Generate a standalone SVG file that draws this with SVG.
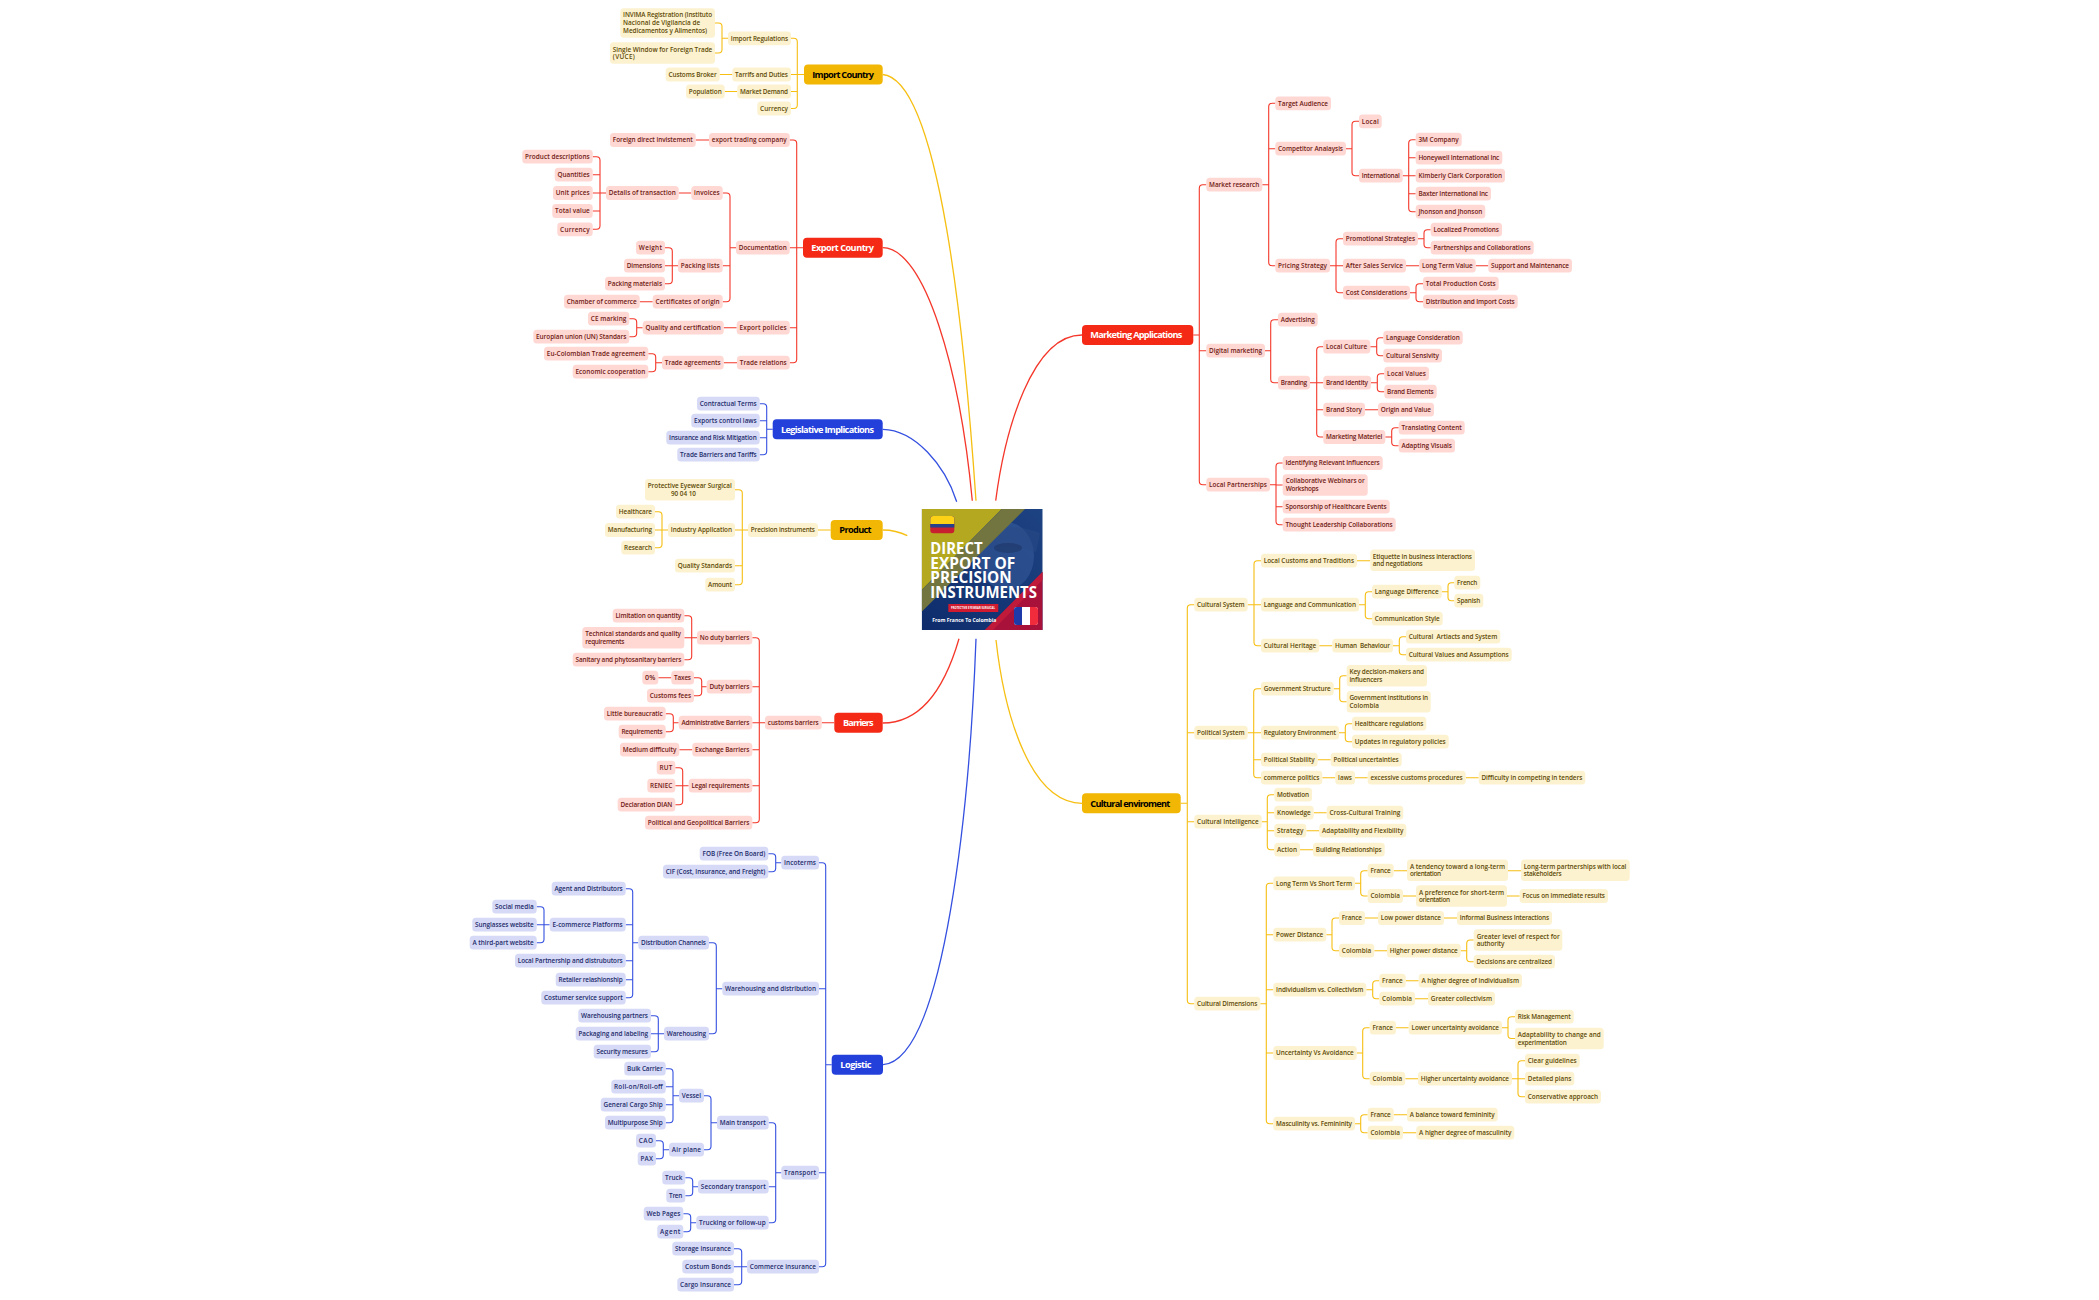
<svg xmlns="http://www.w3.org/2000/svg" width="2099" height="1300" viewBox="0 0 2099 1300">
<defs>
<style>
text{font-family:"Open Sans","Liberation Sans",sans-serif;font-size:6.4px;font-weight:600}
rect{rx:3.5px}
.y rect{fill:#FCF2CF}.y text{fill:#5E4A08}
.r rect{fill:#FFD7D3}.r text{fill:#6E1A14}
.b rect{fill:#D6DAF6}.b text{fill:#232B6B}
.m text{font-size:9.2px;font-weight:700}
.m rect{rx:4px}
.my rect{fill:#F2B705}.my text{fill:#000}
.mr rect{fill:#F42A16}.mr text{fill:#fff}
.mb rect{fill:#2440DA}.mb text{fill:#fff}
#links path{fill:none;stroke-width:1.1}
#links .ly path{stroke:#F6BF12}
#links .lr path{stroke:#F4372A}
#links .lb path{stroke:#3450E0}
#links .c path{stroke-width:1.3}
#center text{fill:#fff;font-weight:700}
#center .t1{font-size:15.5px}
#center .t2{font-size:2.6px}
#center .t3{font-size:5px}
</style>
<linearGradient id="bg" x1="0" y1="1" x2="1" y2="0"><stop offset="0" stop-color="#0E2C6C"/><stop offset="1" stop-color="#1E4382"/></linearGradient>
<clipPath id="cc"><rect x="921.7" y="509" width="121" height="121" style="rx:0"/></clipPath>
</defs>
<rect width="2099" height="1300" fill="#fff" style="rx:0"/>
<g id="links">
<g class="c ly"><path d="M882.7 74.5C940 80 965 340 976 500.7"/><path d="M882.7 530C892 530 900 532 907.3 535.7"/><path d="M1082 803.3C1032 803 1005 720 996 640"/></g>
<g class="c lr"><path d="M882.7 247.7C925 248 960 370 972.3 500.7"/><path d="M882.7 723C925 723 947 680 959 638.7"/><path d="M1082 335C1032 335 1005 430 995.7 500.7"/></g>
<g class="c lb"><path d="M882.7 429.3C915 430 945 465 956.7 501.7"/><path d="M883 1064.7C945 1060 970 800 976 638.7"/></g>
<g class="ly">
<path d="M804 74.5H797.3M791 38.3H793.8Q797.3 38.3 797.3 41.8V105Q797.3 108.5 793.8 108.5H791M791 74.5H797.3M791 91.5H797.3"/>
<path d="M728 38.3H722M715 23H718.5Q722 23 722 26.5V49.5Q722 53 718.5 53H715"/>
<path d="M732.3 74.5H719.7M737.3 91.5H724.7"/>
<path d="M830.7 530H818M748 530H742.3M735 489.7H738.8Q742.3 489.7 742.3 493.2V581.2Q742.3 584.7 738.8 584.7H735M735 530H742.3M735 565.7H742.3"/>
<path d="M668 530H662M655 511.7H658.5Q662 511.7 662 515.2V544.2Q662 547.7 658.5 547.7H655M655 530H662"/>
<path d="M1180.7 803.3H1187.3M1194.3 604.7H1190.8Q1187.3 604.7 1187.3 608.2V1000.2Q1187.3 1003.7 1190.8 1003.7H1194.3M1194.3 732.7H1187.3M1194.3 821.7H1187.3"/>
<path d="M1247.7 604.7H1254M1261 560.7H1257.5Q1254 560.7 1254 564.2V642.2Q1254 645.7 1257.5 645.7H1261M1261 604.7H1254"/>
<path d="M1357 560.7H1370.3M1359 604.7H1365.3M1372 591.7H1368.8Q1365.3 591.7 1365.3 595.2V615.2Q1365.3 618.7 1368.8 618.7H1372"/>
<path d="M1441.7 591.7H1448M1454.3 582.7H1451.5Q1448 582.7 1448 586.2V597.2Q1448 600.7 1451.5 600.7H1454.3"/>
<path d="M1319.3 645.7H1332.3M1393 645.7H1399.3M1406 636.7H1402.8Q1399.3 636.7 1399.3 640.2V651.2Q1399.3 654.7 1402.8 654.7H1406"/>
<path d="M1247.7 732.7H1253.7M1261 688.7H1257.2Q1253.7 688.7 1253.7 692.2V774.2Q1253.7 777.7 1257.2 777.7H1261M1261 732.7H1253.7M1261 759.7H1253.7"/>
<path d="M1333.7 688.7H1339.7M1346.7 675.8H1343.2Q1339.7 675.8 1339.7 679.3V698.3Q1339.7 701.8 1343.2 701.8H1346.7"/>
<path d="M1339 732.7H1345.3M1352 723.7H1348.8Q1345.3 723.7 1345.3 727.2V738.2Q1345.3 741.7 1348.8 741.7H1352"/>
<path d="M1317.7 759.7H1330.7M1322.3 777.7H1335.3M1355 777.7H1367.7M1465.7 777.7H1478.7"/>
<path d="M1261.7 821.7H1267.3M1274.3 794.7H1270.8Q1267.3 794.7 1267.3 798.2V846.2Q1267.3 849.7 1270.8 849.7H1274.3M1274.3 812.7H1267.3M1274.3 830.7H1267.3"/>
<path d="M1313.7 812.7H1326.7M1306.3 830.7H1319.3M1300 849.7H1313"/>
<path d="M1260.3 1003.7H1266.3M1273.3 883.3H1269.8Q1266.3 883.3 1266.3 886.8V1120.2Q1266.3 1123.7 1269.8 1123.7H1273.3M1273.3 934.7H1266.3M1273.3 989.7H1266.3M1273.3 1053H1266.3"/>
<path d="M1355 883.3H1360.7M1367.7 870.7H1364.2Q1360.7 870.7 1360.7 874.2V892.5Q1360.7 896 1364.2 896H1367.7"/>
<path d="M1393.7 870.7H1407M1508 870.7H1521M1403 896H1416M1507 896H1519.7"/>
<path d="M1326.3 934.7H1332M1339 918H1335.5Q1332 918 1332 921.5V947.2Q1332 950.7 1335.5 950.7H1339"/>
<path d="M1365 918H1378M1444 918H1457M1374.3 950.7H1387M1460.7 950.7H1466.7M1473.7 940H1470.2Q1466.7 940 1466.7 943.5V958.2Q1466.7 961.7 1470.2 961.7H1473.7"/>
<path d="M1366.3 989.7H1372.7M1379.3 980.7H1376.2Q1372.7 980.7 1372.7 984.2V995.2Q1372.7 998.7 1376.2 998.7H1379.3M1405.7 980.7H1418.7M1415 998.7H1428"/>
<path d="M1356.7 1053H1362.7M1369.7 1027.7H1366.2Q1362.7 1027.7 1362.7 1031.2V1075.2Q1362.7 1078.7 1366.2 1078.7H1369.7"/>
<path d="M1396 1027.7H1408.7M1502 1027.7H1508M1515 1016.7H1511.5Q1508 1016.7 1508 1020.2V1035Q1508 1038.5 1511.5 1038.5H1515"/>
<path d="M1405.3 1078.7H1418M1512 1078.7H1525M1525 1060.7H1521.5Q1518 1060.7 1518 1064.2V1093.2Q1518 1096.7 1521.5 1096.7H1525"/>
<path d="M1355 1123.7H1360.7M1367.7 1114.7H1364.2Q1360.7 1114.7 1360.7 1118.2V1129.2Q1360.7 1132.7 1364.2 1132.7H1367.7M1393.7 1114.7H1407M1403 1132.7H1416.3"/>
</g>
<g class="lr">
<path d="M803 247.7H796.7M789.7 140H793.2Q796.7 140 796.7 143.5V359.2Q796.7 362.7 793.2 362.7H789.7M789.7 247.7H796.7M789.7 327.7H796.7"/>
<path d="M709 140H695.7M736 247.7H730M722.7 193H726.5Q730 193 730 196.5V298.2Q730 301.7 726.5 301.7H722.7M722.7 265.7H730"/>
<path d="M691.3 193H678.7M606 193H600M592.7 156.7H596.5Q600 156.7 600 160.2V225.8Q600 229.3 596.5 229.3H592.7M592.7 174.7H600M592.7 193H600M592.7 211H600"/>
<path d="M678 265.7H672.3M665 247.7H668.8Q672.3 247.7 672.3 251.2V280.2Q672.3 283.7 668.8 283.7H665M665 265.7H672.3"/>
<path d="M652.7 301.7H639.7M736.7 327.7H723.7M642.7 327.7H636.7M629.3 318.7H633.2Q636.7 318.7 636.7 322.2V333.2Q636.7 336.7 633.2 336.7H629.3"/>
<path d="M737 362.7H723.7M662 362.7H655.7M648.3 353.7H652.2Q655.7 353.7 655.7 357.2V368.2Q655.7 371.7 652.2 371.7H648.3"/>
<path d="M834.3 722.7H821.7M765 722.7H759.3M752.3 637.7H755.8Q759.3 637.7 759.3 641.2V819.2Q759.3 822.7 755.8 822.7H752.3M752.3 686.7H759.3M752.3 722.7H759.3M752.3 749.7H759.3M752.3 785.7H759.3"/>
<path d="M697 637.7H691.7M684.3 615.7H688.2Q691.7 615.7 691.7 619.2V656.2Q691.7 659.7 688.2 659.7H684.3M684.3 637.7H691.7"/>
<path d="M706.7 686.7H701.7M694 677.7H698.2Q701.7 677.7 701.7 681.2V692.2Q701.7 695.7 698.2 695.7H694M671.3 677.7H658.3"/>
<path d="M678.7 722.7H673.3M665.7 713.7H669.8Q673.3 713.7 673.3 717.2V728.2Q673.3 731.7 669.8 731.7H665.7M692.3 749.7H679.3"/>
<path d="M688.7 785.7H682.7M675.3 767.7H679.2Q682.7 767.7 682.7 771.2V801.2Q682.7 804.7 679.2 804.7H675.3M675.3 785.7H682.7"/>
<path d="M1193.3 335H1199.3M1206.3 184.7H1202.8Q1199.3 184.7 1199.3 188.2V481.2Q1199.3 484.7 1202.8 484.7H1206.3M1206.3 350.7H1199.3"/>
<path d="M1262.3 184.7H1268.7M1275.3 103.3H1272.2Q1268.7 103.3 1268.7 106.8V262.2Q1268.7 265.7 1272.2 265.7H1275.3M1275.3 148.7H1268.7"/>
<path d="M1346 148.7H1352M1359 121.3H1355.5Q1352 121.3 1352 124.8V172.2Q1352 175.7 1355.5 175.7H1359"/>
<path d="M1402.7 175.7H1408.7M1415.7 139.7H1412.2Q1408.7 139.7 1408.7 143.2V208.2Q1408.7 211.7 1412.2 211.7H1415.7M1415.7 157.7H1408.7M1415.7 175.7H1408.7M1415.7 193.7H1408.7"/>
<path d="M1330 265.7H1336M1343 238.7H1339.5Q1336 238.7 1336 242.2V289.2Q1336 292.7 1339.5 292.7H1343M1343 265.7H1336"/>
<path d="M1418 238.7H1424M1430.7 229.7H1427.5Q1424 229.7 1424 233.2V244.2Q1424 247.7 1427.5 247.7H1430.7"/>
<path d="M1406 265.7H1419.3M1475.7 265.7H1488.3M1410 292.7H1416M1423 283.7H1419.5Q1416 283.7 1416 287.2V298.2Q1416 301.7 1419.5 301.7H1423"/>
<path d="M1265 350.7H1270.7M1278 319.7H1274.2Q1270.7 319.7 1270.7 323.2V379.2Q1270.7 382.7 1274.2 382.7H1278"/>
<path d="M1310 382.7H1316.7M1323.3 346.7H1320.2Q1316.7 346.7 1316.7 350.2V433.5Q1316.7 437 1320.2 437H1323.3M1323.3 382.7H1316.7M1323.3 409.7H1316.7"/>
<path d="M1370.3 346.7H1376.7M1383.3 337.7H1380.2Q1376.7 337.7 1376.7 341.2V352.2Q1376.7 355.7 1380.2 355.7H1383.3"/>
<path d="M1371 382.7H1377.3M1384.3 373.7H1380.8Q1377.3 373.7 1377.3 377.2V388.2Q1377.3 391.7 1380.8 391.7H1384.3M1365 409.7H1378"/>
<path d="M1385.3 437H1391.7M1398.7 427.7H1395.2Q1391.7 427.7 1391.7 431.2V442.2Q1391.7 445.7 1395.2 445.7H1398.7"/>
<path d="M1270 484.7H1276M1282.7 463H1279.5Q1276 463 1276 466.5V521.2Q1276 524.7 1279.5 524.7H1282.7M1282.7 485H1276M1282.7 506.7H1276"/>
</g>
<g class="lb">
<path d="M772.7 429.3H766.7M759.7 403.7H763.2Q766.7 403.7 766.7 407.2V451.2Q766.7 454.7 763.2 454.7H759.7M759.7 420.7H766.7M759.7 437.7H766.7"/>
<path d="M831.7 1064.7H825.7M819 862.7H822.2Q825.7 862.7 825.7 866.2V1263.2Q825.7 1266.7 822.2 1266.7H819M819 988.7H825.7M819 1172.7H825.7"/>
<path d="M781.3 862.7H775.7M768.3 853.7H772.2Q775.7 853.7 775.7 857.2V868.2Q775.7 871.7 772.2 871.7H768.3"/>
<path d="M722.3 988.7H716.3M709 942.7H712.8Q716.3 942.7 716.3 946.2V1030.2Q716.3 1033.7 712.8 1033.7H709"/>
<path d="M638.3 942.7H632.7M625.7 888.7H629.2Q632.7 888.7 632.7 892.2V994.2Q632.7 997.7 629.2 997.7H625.7M625.7 924.7H632.7M625.7 960.7H632.7M625.7 979.7H632.7"/>
<path d="M549.7 924.7H544M536.7 906.7H540.5Q544 906.7 544 910.2V939.2Q544 942.7 540.5 942.7H536.7M536.7 924.7H544"/>
<path d="M664 1033.7H658.3M651 1015.7H654.8Q658.3 1015.7 658.3 1019.2V1048.2Q658.3 1051.7 654.8 1051.7H651M651 1033.7H658.3"/>
<path d="M781.3 1172.7H775.7M768.7 1122.7H772.2Q775.7 1122.7 775.7 1126.2V1219.2Q775.7 1222.7 772.2 1222.7H768.7M768.7 1186.7H775.7"/>
<path d="M717 1122.7H711M704 1095.7H707.5Q711 1095.7 711 1099.2V1146.2Q711 1149.7 707.5 1149.7H704"/>
<path d="M679 1095.7H673M665.7 1068.7H669.5Q673 1068.7 673 1072.2V1119.2Q673 1122.7 669.5 1122.7H665.7M665.7 1086.7H673M665.7 1104.7H673"/>
<path d="M669 1149.7H663.3M656 1140.7H659.8Q663.3 1140.7 663.3 1144.2V1155.2Q663.3 1158.7 659.8 1158.7H656"/>
<path d="M698 1186.7H692.7M685.3 1177.7H689.2Q692.7 1177.7 692.7 1181.2V1192.2Q692.7 1195.7 689.2 1195.7H685.3"/>
<path d="M696.3 1222.7H690.7M683.3 1213.7H687.2Q690.7 1213.7 690.7 1217.2V1228.2Q690.7 1231.7 687.2 1231.7H683.3"/>
<path d="M747 1266.7H741.7M734 1248.7H738.2Q741.7 1248.7 741.7 1252.2V1281.2Q741.7 1284.7 738.2 1284.7H734M734 1266.7H741.7"/>
</g>
</g>
<g id="center" clip-path="url(#cc)">
<rect x="921.7" y="509" width="121" height="121" fill="url(#bg)" style="rx:0"/>
<ellipse cx="1006" cy="556" rx="28" ry="34" fill="#4A70AE" opacity=".35"/>
<path d="M975 535Q1005 520 1040 533L1036 552Q1005 542 980 550Z" fill="#2A4A86" opacity=".5"/>
<ellipse cx="1008" cy="548" rx="14" ry="5" fill="#14264E" opacity=".35"/>
<polygon points="921.7,509 1001.7,509 921.7,590" fill="#B3A820"/>
<polygon points="1001.7,509 1025,509 921.7,611.7 921.7,590" fill="#72753F"/>
<polygon points="1042.7,571.7 1042.7,630 985,630" fill="#A8123A"/>
<polygon points="1042.7,571.7 1042.7,580 993,630 985,630" fill="#C01A3A"/>
<rect x="930.3" y="516" width="24" height="17.3" fill="#C8202E" style="rx:3px"/>
<path d="M930.3 527.5V519Q930.3 516 933.3 516H951.3Q954.3 516 954.3 519V527.5Z" fill="#27408B"/>
<path d="M930.3 524V519Q930.3 516 933.3 516H951.3Q954.3 516 954.3 519V524Z" fill="#FCD116"/>
<rect x="1014" y="607" width="24" height="18" fill="#fff" style="rx:3px"/>
<path d="M1022 607H1017Q1014 607 1014 610V622Q1014 625 1017 625H1022Z" fill="#1E3AA8"/>
<path d="M1030 607H1035Q1038 607 1038 610V622Q1038 625 1035 625H1030Z" fill="#EF2B3C"/>
<text class="t1"><tspan x="930.3" y="554" textLength="52.3" lengthAdjust="spacingAndGlyphs">DIRECT</tspan><tspan x="930.3" y="568.5" textLength="85" lengthAdjust="spacingAndGlyphs">EXPORT OF</tspan><tspan x="930.3" y="583.3" textLength="81.3" lengthAdjust="spacingAndGlyphs">PRECISION</tspan><tspan x="930.3" y="597.7" textLength="106.7" lengthAdjust="spacingAndGlyphs">INSTRUMENTS</tspan></text>
<rect x="948.3" y="604" width="50" height="8" fill="#D01A30" style="rx:.5px"/>
<text class="t2" x="951" y="609" textLength="44" lengthAdjust="spacingAndGlyphs">PROTECTIVE EYEWEAR SURGICAL</text>
<text class="t3" x="932.3" y="622" textLength="64" lengthAdjust="spacingAndGlyphs">From France To Colombia</text>
</g>
<g id="main" class="m">
<g id="import-country" class="my"><rect x="804" y="64.5" width="78.7" height="20"/><text x="812.3" y="77.8" textLength="61.7">Import Country</text></g>
<g id="export-country" class="mr"><rect x="803" y="237.7" width="79.7" height="20"/><text x="811.3" y="251" textLength="62.7">Export Country</text></g>
<g id="legislative" class="mb"><rect x="772.7" y="419.3" width="110" height="20"/><text x="781" y="432.6" textLength="93">Legislative Implications</text></g>
<g id="product" class="my"><rect x="830.7" y="520" width="52" height="20"/><text x="839.3" y="533.3" textLength="32.3">Product</text></g>
<g id="barriers" class="mr"><rect x="834.3" y="712.7" width="48.4" height="20"/><text x="843" y="726" textLength="30.7">Barriers</text></g>
<g id="logistic" class="mb"><rect x="831.7" y="1054.7" width="51.3" height="20"/><text x="840.3" y="1068" textLength="31.3">Logistic</text></g>
<g id="marketing" class="mr"><rect x="1082" y="325" width="111.3" height="20"/><text x="1090.3" y="338.3" textLength="92">Marketing Applications</text></g>
<g id="cultural" class="my"><rect x="1082" y="793.3" width="98.7" height="20"/><text x="1090.3" y="806.6" textLength="80">Cultural enviroment</text></g>
</g>
<g id="import-nodes" class="y">
<g id="y1" transform="translate(620.3 23)"><rect y="-14.7" width="94.7" height="29.4"/><text x="2.8" y="-6" textLength="89">INVIMA Registration (Instituto</text><text x="2.8" y="2" textLength="77">Nacional de Vigilancia de</text><text x="2.8" y="10" textLength="84">Medicamentos y Alimentos)</text></g>
<g id="y2" transform="translate(728 38.3)"><rect y="-6.9" width="63" height="13.8"/><text x="2.8" y="2.2" textLength="57.2">Import Regulations</text></g>
<g id="y3" transform="translate(610 53)"><rect y="-10.7" width="105" height="21.4"/><text x="2.8" y="-1.1" textLength="99.5">Single Window for Foreign Trade</text><text x="2.8" y="5.9" textLength="22">(VUCE)</text></g>
<g id="y4" transform="translate(732.3 74.5)"><rect y="-6.9" width="58.7" height="13.8"/><text x="2.8" y="2.2" textLength="52.9">Tarrifs and Duties</text></g>
<g id="y5" transform="translate(665.7 74.5)"><rect y="-6.9" width="54" height="13.8"/><text x="2.8" y="2.2" textLength="48.2">Customs Broker</text></g>
<g id="y6" transform="translate(737.3 91.5)"><rect y="-6.9" width="53.7" height="13.8"/><text x="2.8" y="2.2" textLength="47.9">Market Demand</text></g>
<g id="y7" transform="translate(686 91.5)"><rect y="-6.9" width="38.7" height="13.8"/><text x="2.8" y="2.2" textLength="32.9">Population</text></g>
<g id="y8" transform="translate(757.3 108.5)"><rect y="-6.9" width="33.7" height="13.8"/><text x="2.8" y="2.2" textLength="27.9">Currency</text></g>
</g>
<g id="export-nodes" class="r">
<g id="r1" transform="translate(709 140)"><rect y="-6.9" width="80.7" height="13.8"/><text x="2.8" y="2.2" textLength="74.9">export trading company</text></g>
<g id="r2" transform="translate(610 140)"><rect y="-6.9" width="85.7" height="13.8"/><text x="2.8" y="2.2" textLength="79.9">Foreign direct invistement</text></g>
<g id="r3" transform="translate(736 247.7)"><rect y="-6.9" width="53.7" height="13.8"/><text x="2.8" y="2.2" textLength="47.9">Documentation</text></g>
<g id="r4" transform="translate(691.3 193)"><rect y="-6.9" width="31.4" height="13.8"/><text x="2.8" y="2.2" textLength="25.6">invoices</text></g>
<g id="r5" transform="translate(606 193)"><rect y="-6.9" width="72.7" height="13.8"/><text x="2.8" y="2.2" textLength="66.9">Details of transaction</text></g>
<g id="r6" transform="translate(522.3 156.7)"><rect y="-6.9" width="70.4" height="13.8"/><text x="2.8" y="2.2" textLength="64.6">Product descriptions</text></g>
<g id="r7" transform="translate(554.7 174.7)"><rect y="-6.9" width="38" height="13.8"/><text x="2.8" y="2.2" textLength="32.2">Quantities</text></g>
<g id="r8" transform="translate(553 193)"><rect y="-6.9" width="39.7" height="13.8"/><text x="2.8" y="2.2" textLength="33.9">Unit prices</text></g>
<g id="r9" transform="translate(552.3 211)"><rect y="-6.9" width="40.4" height="13.8"/><text x="2.8" y="2.2" textLength="34.6">Total value</text></g>
<g id="r10" transform="translate(557.3 229.3)"><rect y="-6.9" width="35.4" height="13.8"/><text x="2.8" y="2.2" textLength="29.6">Currency</text></g>
<g id="r11" transform="translate(678 265.7)"><rect y="-6.9" width="44.7" height="13.8"/><text x="2.8" y="2.2" textLength="38.9">Packing lists</text></g>
<g id="r12" transform="translate(636 247.7)"><rect y="-6.9" width="29" height="13.8"/><text x="2.8" y="2.2" textLength="23.2">Weight</text></g>
<g id="r13" transform="translate(624 265.7)"><rect y="-6.9" width="41" height="13.8"/><text x="2.8" y="2.2" textLength="35.2">Dimensions</text></g>
<g id="r14" transform="translate(605 283.7)"><rect y="-6.9" width="60" height="13.8"/><text x="2.8" y="2.2" textLength="54.2">Packing materials</text></g>
<g id="r15" transform="translate(652.7 301.7)"><rect y="-6.9" width="70" height="13.8"/><text x="2.8" y="2.2" textLength="64.2">Certificates of origin</text></g>
<g id="r16" transform="translate(564 301.7)"><rect y="-6.9" width="75.7" height="13.8"/><text x="2.8" y="2.2" textLength="69.9">Chamber of commerce</text></g>
<g id="r17" transform="translate(736.7 327.7)"><rect y="-6.9" width="53" height="13.8"/><text x="2.8" y="2.2" textLength="47.2">Export policies</text></g>
<g id="r18" transform="translate(642.7 327.7)"><rect y="-6.9" width="81" height="13.8"/><text x="2.8" y="2.2" textLength="75.2">Quality and certification</text></g>
<g id="r19" transform="translate(588 318.7)"><rect y="-6.9" width="41.3" height="13.8"/><text x="2.8" y="2.2" textLength="35.5">CE marking</text></g>
<g id="r20" transform="translate(533.3 336.7)"><rect y="-6.9" width="96" height="13.8"/><text x="2.8" y="2.2" textLength="90.2">Europian union (UN) Standars</text></g>
<g id="r21" transform="translate(737 362.7)"><rect y="-6.9" width="52.7" height="13.8"/><text x="2.8" y="2.2" textLength="46.9">Trade relations</text></g>
<g id="r22" transform="translate(662 362.7)"><rect y="-6.9" width="61.7" height="13.8"/><text x="2.8" y="2.2" textLength="55.9">Trade agreements</text></g>
<g id="r23" transform="translate(544 353.7)"><rect y="-6.9" width="104.3" height="13.8"/><text x="2.8" y="2.2" textLength="98.5">Eu-Colombian Trade agreement</text></g>
<g id="r24" transform="translate(572.7 371.7)"><rect y="-6.9" width="75.6" height="13.8"/><text x="2.8" y="2.2" textLength="69.8">Economic cooperation</text></g>
</g>
<g id="legislative-nodes" class="b">
<g id="b1" transform="translate(697 403.7)"><rect y="-6.9" width="62.7" height="13.8"/><text x="2.8" y="2.2" textLength="56.9">Contractual Terms</text></g>
<g id="b2" transform="translate(691.3 420.7)"><rect y="-6.9" width="68.4" height="13.8"/><text x="2.8" y="2.2" textLength="62.6">Exports control laws</text></g>
<g id="b3" transform="translate(666.3 437.7)"><rect y="-6.9" width="93.4" height="13.8"/><text x="2.8" y="2.2" textLength="87.6">Insurance and Risk Mitigation</text></g>
<g id="b4" transform="translate(677.3 454.7)"><rect y="-6.9" width="82.4" height="13.8"/><text x="2.8" y="2.2" textLength="76.6">Trade Barriers and Tariffs</text></g>
</g>
<g id="product-nodes" class="y">
<g id="p1" transform="translate(748 530)"><rect y="-6.9" width="70" height="13.8"/><text x="2.8" y="2.2" textLength="64.2">Precision instruments</text></g>
<g id="p2" transform="translate(645 489.7)"><rect y="-10.8" width="90" height="21.6"/><text x="2.7" y="-1.8" textLength="84">Protective Eyewear Surgical</text><text x="26" y="6.2" textLength="25">90 04 10</text></g>
<g id="p3" transform="translate(668 530)"><rect y="-6.9" width="67" height="13.8"/><text x="2.8" y="2.2" textLength="61.2">Industry Application</text></g>
<g id="p4" transform="translate(616 511.7)"><rect y="-6.9" width="39" height="13.8"/><text x="2.8" y="2.2" textLength="33.2">Healthcare</text></g>
<g id="p5" transform="translate(605 530)"><rect y="-6.9" width="50" height="13.8"/><text x="2.8" y="2.2" textLength="44.2">Manufacturing</text></g>
<g id="p6" transform="translate(621.3 547.7)"><rect y="-6.9" width="33.7" height="13.8"/><text x="2.8" y="2.2" textLength="27.9">Research</text></g>
<g id="p7" transform="translate(675 565.7)"><rect y="-6.9" width="60" height="13.8"/><text x="2.8" y="2.2" textLength="54.2">Quality Standards</text></g>
<g id="p8" transform="translate(705.3 584.7)"><rect y="-6.9" width="29.7" height="13.8"/><text x="2.8" y="2.2" textLength="23.9">Amount</text></g>
</g>
<g id="barrier-nodes" class="r">
<g id="k1" transform="translate(765 722.7)"><rect y="-6.9" width="56.7" height="13.8"/><text x="2.8" y="2.2" textLength="50.9">customs barriers</text></g>
<g id="k2" transform="translate(697 637.7)"><rect y="-6.9" width="55.3" height="13.8"/><text x="2.8" y="2.2" textLength="49.5">No duty barriers</text></g>
<g id="k3" transform="translate(612.7 615.7)"><rect y="-6.9" width="71.6" height="13.8"/><text x="2.8" y="2.2" textLength="65.8">Limitation on quantity</text></g>
<g id="k4" transform="translate(582.3 637.7)"><rect y="-10.8" width="102" height="21.6"/><text x="3" y="-1.8" textLength="95.7">Technical standards and quality</text><text x="3" y="6.2" textLength="39">requirements</text></g>
<g id="k5" transform="translate(572.7 659.7)"><rect y="-6.9" width="111.6" height="13.8"/><text x="2.8" y="2.2" textLength="105.8">Sanitary and phytosanitary barriers</text></g>
<g id="k6" transform="translate(706.7 686.7)"><rect y="-6.9" width="45.6" height="13.8"/><text x="2.8" y="2.2" textLength="39.8">Duty barriers</text></g>
<g id="k7" transform="translate(671.3 677.7)"><rect y="-6.9" width="22.7" height="13.8"/><text x="2.8" y="2.2" textLength="16.9">Taxes</text></g>
<g id="k8" transform="translate(642.3 677.7)"><rect y="-6.9" width="16" height="13.8"/><text x="2.8" y="2.2" textLength="10.2" lengthAdjust="spacingAndGlyphs">0%</text></g>
<g id="k9" transform="translate(647 695.7)"><rect y="-6.9" width="47" height="13.8"/><text x="2.8" y="2.2" textLength="41.2">Customs fees</text></g>
<g id="k10" transform="translate(678.7 722.7)"><rect y="-6.9" width="73.6" height="13.8"/><text x="2.8" y="2.2" textLength="67.8">Administrative Barriers</text></g>
<g id="k11" transform="translate(604 713.7)"><rect y="-6.9" width="61.7" height="13.8"/><text x="2.8" y="2.2" textLength="55.9">Little bureaucratic</text></g>
<g id="k12" transform="translate(618.7 731.7)"><rect y="-6.9" width="47" height="13.8"/><text x="2.8" y="2.2" textLength="41.2">Requirements</text></g>
<g id="k13" transform="translate(692.3 749.7)"><rect y="-6.9" width="60" height="13.8"/><text x="2.8" y="2.2" textLength="54.2">Exchange Barriers</text></g>
<g id="k14" transform="translate(620 749.7)"><rect y="-6.9" width="59.3" height="13.8"/><text x="2.8" y="2.2" textLength="53.5">Medium difficulty</text></g>
<g id="k15" transform="translate(688.7 785.7)"><rect y="-6.9" width="63.6" height="13.8"/><text x="2.8" y="2.2" textLength="57.8">Legal requirements</text></g>
<g id="k16" transform="translate(656.7 767.7)"><rect y="-6.9" width="18.6" height="13.8"/><text x="2.8" y="2.2" textLength="12.8">RUT</text></g>
<g id="k17" transform="translate(647.3 785.7)"><rect y="-6.9" width="28" height="13.8"/><text x="2.8" y="2.2" textLength="22.2">RENIEC</text></g>
<g id="k18" transform="translate(617.7 804.7)"><rect y="-6.9" width="57.6" height="13.8"/><text x="2.8" y="2.2" textLength="51.8">Declaration DIAN</text></g>
<g id="k19" transform="translate(645 822.7)"><rect y="-6.9" width="107.3" height="13.8"/><text x="2.8" y="2.2" textLength="101.5">Political and Geopolitical Barriers</text></g>
</g>
<g id="logistic-nodes" class="b">
<g id="l1" transform="translate(781.3 862.7)"><rect y="-6.9" width="37.7" height="13.8"/><text x="2.8" y="2.2" textLength="31.9">Incoterms</text></g>
<g id="l2" transform="translate(699.7 853.7)"><rect y="-6.9" width="68.6" height="13.8"/><text x="2.8" y="2.2" textLength="62.8">FOB (Free On Board)</text></g>
<g id="l3" transform="translate(663 871.7)"><rect y="-6.9" width="105.3" height="13.8"/><text x="2.8" y="2.2" textLength="99.5">CIF (Cost, Insurance, and Freight)</text></g>
<g id="l4" transform="translate(722.3 988.7)"><rect y="-6.9" width="96.7" height="13.8"/><text x="2.8" y="2.2" textLength="90.9">Warehousing and distribution</text></g>
<g id="l5" transform="translate(638.3 942.7)"><rect y="-6.9" width="70.7" height="13.8"/><text x="2.8" y="2.2" textLength="64.9">Distribution Channels</text></g>
<g id="l6" transform="translate(551.7 888.7)"><rect y="-6.9" width="74" height="13.8"/><text x="2.8" y="2.2" textLength="68.2">Agent and Distributors</text></g>
<g id="l7" transform="translate(549.7 924.7)"><rect y="-6.9" width="76" height="13.8"/><text x="2.8" y="2.2" textLength="70.2">E-commerce Platforms</text></g>
<g id="l8" transform="translate(492.3 906.7)"><rect y="-6.9" width="44.4" height="13.8"/><text x="2.8" y="2.2" textLength="38.6">Social media</text></g>
<g id="l9" transform="translate(472.3 924.7)"><rect y="-6.9" width="64.4" height="13.8"/><text x="2.8" y="2.2" textLength="58.6">Sunglasses website</text></g>
<g id="l10" transform="translate(469.7 942.7)"><rect y="-6.9" width="67" height="13.8"/><text x="2.8" y="2.2" textLength="61.2">A third-part website</text></g>
<g id="l11" transform="translate(515 960.7)"><rect y="-6.9" width="110.7" height="13.8"/><text x="2.8" y="2.2" textLength="104.9">Local Partnership and distrubutors</text></g>
<g id="l12" transform="translate(555.7 979.7)"><rect y="-6.9" width="70" height="13.8"/><text x="2.8" y="2.2" textLength="64.2">Retailer relashionship</text></g>
<g id="l13" transform="translate(541.3 997.7)"><rect y="-6.9" width="84.4" height="13.8"/><text x="2.8" y="2.2" textLength="78.6">Costumer service support</text></g>
<g id="l14" transform="translate(664 1033.7)"><rect y="-6.9" width="45" height="13.8"/><text x="2.8" y="2.2" textLength="39.2">Warehousing</text></g>
<g id="l15" transform="translate(578.3 1015.7)"><rect y="-6.9" width="72.7" height="13.8"/><text x="2.8" y="2.2" textLength="66.9">Warehousing partners</text></g>
<g id="l16" transform="translate(575.7 1033.7)"><rect y="-6.9" width="75.3" height="13.8"/><text x="2.8" y="2.2" textLength="69.5">Packaging and labeling</text></g>
<g id="l17" transform="translate(593.7 1051.7)"><rect y="-6.9" width="57.3" height="13.8"/><text x="2.8" y="2.2" textLength="51.5">Security mesures</text></g>
<g id="l18" transform="translate(781.3 1172.7)"><rect y="-6.9" width="37.7" height="13.8"/><text x="2.8" y="2.2" textLength="31.9">Transport</text></g>
<g id="l19" transform="translate(717 1122.7)"><rect y="-6.9" width="51.7" height="13.8"/><text x="2.8" y="2.2" textLength="45.9">Main transport</text></g>
<g id="l20" transform="translate(679 1095.7)"><rect y="-6.9" width="25" height="13.8"/><text x="2.8" y="2.2" textLength="19.2">Vessel</text></g>
<g id="l21" transform="translate(624.3 1068.7)"><rect y="-6.9" width="41.4" height="13.8"/><text x="2.8" y="2.2" textLength="35.6">Bulk Carrier</text></g>
<g id="l22" transform="translate(611.3 1086.7)"><rect y="-6.9" width="54.4" height="13.8"/><text x="2.8" y="2.2" textLength="48.6">Roll-on/Roll-off</text></g>
<g id="l23" transform="translate(600.7 1104.7)"><rect y="-6.9" width="65" height="13.8"/><text x="2.8" y="2.2" textLength="59.2">General Cargo Ship</text></g>
<g id="l24" transform="translate(605 1122.7)"><rect y="-6.9" width="60.7" height="13.8"/><text x="2.8" y="2.2" textLength="54.9">Multipurpose Ship</text></g>
<g id="l25" transform="translate(669 1149.7)"><rect y="-6.9" width="35" height="13.8"/><text x="2.8" y="2.2" textLength="29.2">Air plane</text></g>
<g id="l26" transform="translate(636 1140.7)"><rect y="-6.9" width="20" height="13.8"/><text x="2.8" y="2.2" textLength="14.2">CAO</text></g>
<g id="l27" transform="translate(637.7 1158.7)"><rect y="-6.9" width="18.3" height="13.8"/><text x="2.8" y="2.2" textLength="12.5">PAX</text></g>
<g id="l28" transform="translate(698 1186.7)"><rect y="-6.9" width="70.7" height="13.8"/><text x="2.8" y="2.2" textLength="64.9">Secondary transport</text></g>
<g id="l29" transform="translate(662.3 1177.7)"><rect y="-6.9" width="23" height="13.8"/><text x="2.8" y="2.2" textLength="17.2">Truck</text></g>
<g id="l30" transform="translate(666.3 1195.7)"><rect y="-6.9" width="19" height="13.8"/><text x="2.8" y="2.2" textLength="13.2">Tren</text></g>
<g id="l31" transform="translate(696.3 1222.7)"><rect y="-6.9" width="72.4" height="13.8"/><text x="2.8" y="2.2" textLength="66.6">Trucking or follow-up</text></g>
<g id="l32" transform="translate(643.7 1213.7)"><rect y="-6.9" width="39.6" height="13.8"/><text x="2.8" y="2.2" textLength="33.8">Web Pages</text></g>
<g id="l33" transform="translate(657.3 1231.7)"><rect y="-6.9" width="26" height="13.8"/><text x="2.8" y="2.2" textLength="20.2">Agent</text></g>
<g id="l34" transform="translate(747 1266.7)"><rect y="-6.9" width="72" height="13.8"/><text x="2.8" y="2.2" textLength="66.2">Commerce insurance</text></g>
<g id="l35" transform="translate(672.3 1248.7)"><rect y="-6.9" width="61.7" height="13.8"/><text x="2.8" y="2.2" textLength="55.9">Storage insurance</text></g>
<g id="l36" transform="translate(682.3 1266.7)"><rect y="-6.9" width="51.7" height="13.8"/><text x="2.8" y="2.2" textLength="45.9">Costum Bonds</text></g>
<g id="l37" transform="translate(677.3 1284.7)"><rect y="-6.9" width="56.7" height="13.8"/><text x="2.8" y="2.2" textLength="50.9">Cargo Insurance</text></g>
</g>
<g id="marketing-nodes" class="r">
<g id="a1" transform="translate(1206.3 184.7)"><rect y="-6.9" width="56" height="13.8"/><text x="2.8" y="2.2" textLength="50.2">Market research</text></g>
<g id="a2" transform="translate(1275.3 103.3)"><rect y="-6.9" width="55.7" height="13.8"/><text x="2.8" y="2.2" textLength="49.9">Target Audience</text></g>
<g id="a3" transform="translate(1275.3 148.7)"><rect y="-6.9" width="70.7" height="13.8"/><text x="2.8" y="2.2" textLength="64.9">Competitor Analaysis</text></g>
<g id="a4" transform="translate(1359 121.3)"><rect y="-6.9" width="22.7" height="13.8"/><text x="2.8" y="2.2" textLength="16.9">Local</text></g>
<g id="a5" transform="translate(1359 175.7)"><rect y="-6.9" width="43.7" height="13.8"/><text x="2.8" y="2.2" textLength="37.9">International</text></g>
<g id="a6" transform="translate(1415.7 139.7)"><rect y="-6.9" width="46" height="13.8"/><text x="2.8" y="2.2" textLength="40.2">3M Company</text></g>
<g id="a7" transform="translate(1415.7 157.7)"><rect y="-6.9" width="86.6" height="13.8"/><text x="2.8" y="2.2" textLength="80.8">Honeywell International Inc</text></g>
<g id="a8" transform="translate(1415.7 175.7)"><rect y="-6.9" width="89.3" height="13.8"/><text x="2.8" y="2.2" textLength="83.5">Kimberly Clark Corporation</text></g>
<g id="a9" transform="translate(1415.7 193.7)"><rect y="-6.9" width="75.3" height="13.8"/><text x="2.8" y="2.2" textLength="69.5">Baxter International Inc</text></g>
<g id="a10" transform="translate(1415.7 211.7)"><rect y="-6.9" width="69.6" height="13.8"/><text x="2.8" y="2.2" textLength="63.8">Jhonson and Jhonson</text></g>
<g id="a11" transform="translate(1275.3 265.7)"><rect y="-6.9" width="54.7" height="13.8"/><text x="2.8" y="2.2" textLength="48.9">Pricing Strategy</text></g>
<g id="a12" transform="translate(1343 238.7)"><rect y="-6.9" width="75" height="13.8"/><text x="2.8" y="2.2" textLength="69.2">Promotional Strategies</text></g>
<g id="a13" transform="translate(1430.7 229.7)"><rect y="-6.9" width="71.3" height="13.8"/><text x="2.8" y="2.2" textLength="65.5">Localized Promotions</text></g>
<g id="a14" transform="translate(1430.7 247.7)"><rect y="-6.9" width="103" height="13.8"/><text x="2.8" y="2.2" textLength="97.2">Partnerships and Collaborations</text></g>
<g id="a15" transform="translate(1343 265.7)"><rect y="-6.9" width="63" height="13.8"/><text x="2.8" y="2.2" textLength="57.2">After Sales Service</text></g>
<g id="a16" transform="translate(1419.3 265.7)"><rect y="-6.9" width="56.4" height="13.8"/><text x="2.8" y="2.2" textLength="50.6">Long Term Value</text></g>
<g id="a17" transform="translate(1488.3 265.7)"><rect y="-6.9" width="83.7" height="13.8"/><text x="2.8" y="2.2" textLength="77.9">Support and Maintenance</text></g>
<g id="a18" transform="translate(1343 292.7)"><rect y="-6.9" width="67" height="13.8"/><text x="2.8" y="2.2" textLength="61.2">Cost Considerations</text></g>
<g id="a19" transform="translate(1423 283.7)"><rect y="-6.9" width="75.7" height="13.8"/><text x="2.8" y="2.2" textLength="69.9">Total Production Costs</text></g>
<g id="a20" transform="translate(1423 301.7)"><rect y="-6.9" width="94.7" height="13.8"/><text x="2.8" y="2.2" textLength="88.9">Distribution and Import Costs</text></g>
<g id="a21" transform="translate(1206.3 350.7)"><rect y="-6.9" width="58.7" height="13.8"/><text x="2.8" y="2.2" textLength="52.9">Digital marketing</text></g>
<g id="a22" transform="translate(1278 319.7)"><rect y="-6.9" width="39.7" height="13.8"/><text x="2.8" y="2.2" textLength="33.9">Advertising</text></g>
<g id="a23" transform="translate(1278 382.7)"><rect y="-6.9" width="32" height="13.8"/><text x="2.8" y="2.2" textLength="26.2">Branding</text></g>
<g id="a24" transform="translate(1323.3 346.7)"><rect y="-6.9" width="47" height="13.8"/><text x="2.8" y="2.2" textLength="41.2">Local Culture</text></g>
<g id="a25" transform="translate(1383.3 337.7)"><rect y="-6.9" width="79.4" height="13.8"/><text x="2.8" y="2.2" textLength="73.6">Language Consideration</text></g>
<g id="a26" transform="translate(1383.3 355.7)"><rect y="-6.9" width="58.7" height="13.8"/><text x="2.8" y="2.2" textLength="52.9">Cultural Sensivity</text></g>
<g id="a27" transform="translate(1323.3 382.7)"><rect y="-6.9" width="47.7" height="13.8"/><text x="2.8" y="2.2" textLength="41.9">Brand Identity</text></g>
<g id="a28" transform="translate(1384.3 373.7)"><rect y="-6.9" width="44.7" height="13.8"/><text x="2.8" y="2.2" textLength="38.9">Local Values</text></g>
<g id="a29" transform="translate(1384.3 391.7)"><rect y="-6.9" width="52.4" height="13.8"/><text x="2.8" y="2.2" textLength="46.6">Brand Elements</text></g>
<g id="a30" transform="translate(1323.3 409.7)"><rect y="-6.9" width="41.7" height="13.8"/><text x="2.8" y="2.2" textLength="35.9">Brand Story</text></g>
<g id="a31" transform="translate(1378 409.7)"><rect y="-6.9" width="56" height="13.8"/><text x="2.8" y="2.2" textLength="50.2">Origin and Value</text></g>
<g id="a32" transform="translate(1323.3 437)"><rect y="-6.9" width="62" height="13.8"/><text x="2.8" y="2.2" textLength="56.2">Marketing Materiel</text></g>
<g id="a33" transform="translate(1398.7 427.7)"><rect y="-6.9" width="66" height="13.8"/><text x="2.8" y="2.2" textLength="60.2">Translating Content</text></g>
<g id="a34" transform="translate(1398.7 445.7)"><rect y="-6.9" width="56.3" height="13.8"/><text x="2.8" y="2.2" textLength="50.5">Adapting Visuals</text></g>
<g id="a35" transform="translate(1206.3 484.7)"><rect y="-6.9" width="63.7" height="13.8"/><text x="2.8" y="2.2" textLength="57.9">Local Partnerships</text></g>
<g id="a36" transform="translate(1282.7 463)"><rect y="-6.9" width="100" height="13.8"/><text x="2.8" y="2.2" textLength="94.2">Identifying Relevant Influencers</text></g>
<g id="a37" transform="translate(1282.7 485)"><rect y="-10.8" width="85" height="21.6"/><text x="3" y="-2.1" textLength="79">Collaborative Webinars or</text><text x="3" y="5.9" textLength="33">Workshops</text></g>
<g id="a38" transform="translate(1282.7 506.7)"><rect y="-6.9" width="107" height="13.8"/><text x="2.8" y="2.2" textLength="101.2">Sponsorship of Healthcare Events</text></g>
<g id="a39" transform="translate(1282.7 524.7)"><rect y="-6.9" width="113" height="13.8"/><text x="2.8" y="2.2" textLength="107.2">Thought Leadership Collaborations</text></g>
</g>
<g id="cultural-nodes" class="y">
<g id="c1" transform="translate(1194.3 604.7)"><rect y="-6.9" width="53.4" height="13.8"/><text x="2.8" y="2.2" textLength="47.6">Cultural System</text></g>
<g id="c2" transform="translate(1261 560.7)"><rect y="-6.9" width="96" height="13.8"/><text x="2.8" y="2.2" textLength="90.2">Local Customs and Traditions</text></g>
<g id="c3" transform="translate(1370.3 560.3)"><rect y="-10.7" width="104.7" height="21.4"/><text x="2.4" y="-1.4" textLength="99.3">Etiquette in business interactions</text><text x="2.4" y="5.6" textLength="50">and negotiations</text></g>
<g id="c4" transform="translate(1261 604.7)"><rect y="-6.9" width="98" height="13.8"/><text x="2.8" y="2.2" textLength="92.2">Language and Communication</text></g>
<g id="c5" transform="translate(1372 591.7)"><rect y="-6.9" width="69.7" height="13.8"/><text x="2.8" y="2.2" textLength="63.9">Language Difference</text></g>
<g id="c6" transform="translate(1454.3 582.7)"><rect y="-6.9" width="26" height="13.8"/><text x="2.8" y="2.2" textLength="20.2">French</text></g>
<g id="c7" transform="translate(1454.3 600.7)"><rect y="-6.9" width="29" height="13.8"/><text x="2.8" y="2.2" textLength="23.2">Spanish</text></g>
<g id="c8" transform="translate(1372 618.7)"><rect y="-6.9" width="70.7" height="13.8"/><text x="2.8" y="2.2" textLength="64.9">Communication Style</text></g>
<g id="c9" transform="translate(1261 645.7)"><rect y="-6.9" width="58.3" height="13.8"/><text x="2.8" y="2.2" textLength="52.5">Cultural Heritage</text></g>
<g id="c10" transform="translate(1332.3 645.7)"><rect y="-6.9" width="60.7" height="13.8"/><text x="2.8" y="2.2" textLength="54.9" xml:space="preserve">Human  Behaviour</text></g>
<g id="c11" transform="translate(1406 636.7)"><rect y="-6.9" width="94.3" height="13.8"/><text x="2.8" y="2.2" textLength="88.5" xml:space="preserve">Cultural  Artiacts and System</text></g>
<g id="c12" transform="translate(1406 654.7)"><rect y="-6.9" width="105.7" height="13.8"/><text x="2.8" y="2.2" textLength="99.9">Cultural Values and Assumptions</text></g>
<g id="c13" transform="translate(1194.3 732.7)"><rect y="-6.9" width="53.4" height="13.8"/><text x="2.8" y="2.2" textLength="47.6">Political System</text></g>
<g id="c14" transform="translate(1261 688.7)"><rect y="-6.9" width="72.7" height="13.8"/><text x="2.8" y="2.2" textLength="66.9">Government Structure</text></g>
<g id="c15" transform="translate(1346.7 675.8)"><rect y="-10.8" width="80.3" height="21.6"/><text x="2.7" y="-1.9" textLength="74.7">Key decision-makers and</text><text x="2.7" y="6.1" textLength="33">influencers</text></g>
<g id="c16" transform="translate(1346.7 701.8)"><rect y="-10.8" width="84" height="21.6"/><text x="2.7" y="-1.9" textLength="78.7">Government institutions in</text><text x="2.7" y="6.1" textLength="29.7">Colombia</text></g>
<g id="c17" transform="translate(1261 732.7)"><rect y="-6.9" width="78" height="13.8"/><text x="2.8" y="2.2" textLength="72.2">Regulatory Environment</text></g>
<g id="c18" transform="translate(1352 723.7)"><rect y="-6.9" width="74.3" height="13.8"/><text x="2.8" y="2.2" textLength="68.5">Healthcare regulations</text></g>
<g id="c19" transform="translate(1352 741.7)"><rect y="-6.9" width="96.7" height="13.8"/><text x="2.8" y="2.2" textLength="90.9">Updates in regulatory policies</text></g>
<g id="c20" transform="translate(1261 759.7)"><rect y="-6.9" width="56.7" height="13.8"/><text x="2.8" y="2.2" textLength="50.9">Political Stability</text></g>
<g id="c21" transform="translate(1330.7 759.7)"><rect y="-6.9" width="71" height="13.8"/><text x="2.8" y="2.2" textLength="65.2">Political uncertainties</text></g>
<g id="c22" transform="translate(1261 777.7)"><rect y="-6.9" width="61.3" height="13.8"/><text x="2.8" y="2.2" textLength="55.5">commerce politics</text></g>
<g id="c23" transform="translate(1335.3 777.7)"><rect y="-6.9" width="19.7" height="13.8"/><text x="2.8" y="2.2" textLength="13.9">laws</text></g>
<g id="c24" transform="translate(1367.7 777.7)"><rect y="-6.9" width="98" height="13.8"/><text x="2.8" y="2.2" textLength="92.2">excessive customs procedures</text></g>
<g id="c25" transform="translate(1478.7 777.7)"><rect y="-6.9" width="106.6" height="13.8"/><text x="2.8" y="2.2" textLength="100.8">Difficulty in competing in tenders</text></g>
<g id="c26" transform="translate(1194.3 821.7)"><rect y="-6.9" width="67.4" height="13.8"/><text x="2.8" y="2.2" textLength="61.6">Cultural Intelligence</text></g>
<g id="c27" transform="translate(1274.3 794.7)"><rect y="-6.9" width="37.7" height="13.8"/><text x="2.8" y="2.2" textLength="31.9">Motivation</text></g>
<g id="c28" transform="translate(1274.3 812.7)"><rect y="-6.9" width="39.4" height="13.8"/><text x="2.8" y="2.2" textLength="33.6">Knowledge</text></g>
<g id="c29" transform="translate(1326.7 812.7)"><rect y="-6.9" width="76.6" height="13.8"/><text x="2.8" y="2.2" textLength="70.8">Cross-Cultural Training</text></g>
<g id="c30" transform="translate(1274.3 830.7)"><rect y="-6.9" width="32" height="13.8"/><text x="2.8" y="2.2" textLength="26.2">Strategy</text></g>
<g id="c31" transform="translate(1319.3 830.7)"><rect y="-6.9" width="87" height="13.8"/><text x="2.8" y="2.2" textLength="81.2">Adaptability and Flexibility</text></g>
<g id="c32" transform="translate(1274.3 849.7)"><rect y="-6.9" width="25.7" height="13.8"/><text x="2.8" y="2.2" textLength="19.9">Action</text></g>
<g id="c33" transform="translate(1313 849.7)"><rect y="-6.9" width="71.7" height="13.8"/><text x="2.8" y="2.2" textLength="65.9">Building Relationships</text></g>
<g id="c34" transform="translate(1194.3 1003.7)"><rect y="-6.9" width="66" height="13.8"/><text x="2.8" y="2.2" textLength="60.2">Cultural Dimensions</text></g>
<g id="c35" transform="translate(1273.3 883.3)"><rect y="-6.9" width="81.7" height="13.8"/><text x="2.8" y="2.2" textLength="75.9">Long Term Vs Short Term</text></g>
<g id="c36" transform="translate(1367.7 870.7)"><rect y="-6.9" width="26" height="13.8"/><text x="2.8" y="2.2" textLength="20.2">France</text></g>
<g id="c37" transform="translate(1407 870.2)"><rect y="-10.8" width="101" height="21.6"/><text x="3" y="-1.4" textLength="95">A tendency toward a long-term</text><text x="3" y="5.6" textLength="31">orientation</text></g>
<g id="c38" transform="translate(1521 870.2)"><rect y="-10.8" width="108.7" height="21.6"/><text x="2.7" y="-1.4" textLength="102.7">Long-term partnerships with local</text><text x="2.7" y="5.6" textLength="38">stakeholders</text></g>
<g id="c39" transform="translate(1367.7 896)"><rect y="-6.9" width="35.3" height="13.8"/><text x="2.8" y="2.2" textLength="29.5">Colombia</text></g>
<g id="c40" transform="translate(1416 896)"><rect y="-10.8" width="91" height="21.6"/><text x="3" y="-1.1" textLength="85">A preference for short-term</text><text x="3" y="5.9" textLength="31">orientation</text></g>
<g id="c41" transform="translate(1519.7 896)"><rect y="-6.9" width="88.3" height="13.8"/><text x="2.8" y="2.2" textLength="82.5">Focus on immediate results</text></g>
<g id="c42" transform="translate(1273.3 934.7)"><rect y="-6.9" width="53" height="13.8"/><text x="2.8" y="2.2" textLength="47.2">Power Distance</text></g>
<g id="c43" transform="translate(1339 918)"><rect y="-6.9" width="26" height="13.8"/><text x="2.8" y="2.2" textLength="20.2">France</text></g>
<g id="c44" transform="translate(1378 918)"><rect y="-6.9" width="66" height="13.8"/><text x="2.8" y="2.2" textLength="60.2">Low power distance</text></g>
<g id="c45" transform="translate(1457 918)"><rect y="-6.9" width="95" height="13.8"/><text x="2.8" y="2.2" textLength="89.2">Informal Business Interactions</text></g>
<g id="c46" transform="translate(1339 950.7)"><rect y="-6.9" width="35.3" height="13.8"/><text x="2.8" y="2.2" textLength="29.5">Colombia</text></g>
<g id="c47" transform="translate(1387 950.7)"><rect y="-6.9" width="73.7" height="13.8"/><text x="2.8" y="2.2" textLength="67.9">Higher power distance</text></g>
<g id="c48" transform="translate(1473.7 940)"><rect y="-10.8" width="88.6" height="21.6"/><text x="3" y="-1.1" textLength="83">Greater level of respect for</text><text x="3" y="5.9" textLength="27.7">authority</text></g>
<g id="c49" transform="translate(1473.7 961.7)"><rect y="-6.9" width="81.3" height="13.8"/><text x="2.8" y="2.2" textLength="75.5">Decisions are centralized</text></g>
<g id="c50" transform="translate(1273.3 989.7)"><rect y="-6.9" width="93" height="13.8"/><text x="2.8" y="2.2" textLength="87.2">Individualism vs. Collectivism</text></g>
<g id="c51" transform="translate(1379.3 980.7)"><rect y="-6.9" width="26.4" height="13.8"/><text x="2.8" y="2.2" textLength="20.6">France</text></g>
<g id="c52" transform="translate(1418.7 980.7)"><rect y="-6.9" width="103.3" height="13.8"/><text x="2.8" y="2.2" textLength="97.5">A higher degree of individualism</text></g>
<g id="c53" transform="translate(1379.3 998.7)"><rect y="-6.9" width="35.7" height="13.8"/><text x="2.8" y="2.2" textLength="29.9">Colombia</text></g>
<g id="c54" transform="translate(1428 998.7)"><rect y="-6.9" width="67" height="13.8"/><text x="2.8" y="2.2" textLength="61.2">Greater collectivism</text></g>
<g id="c55" transform="translate(1273.3 1053)"><rect y="-6.9" width="83.4" height="13.8"/><text x="2.8" y="2.2" textLength="77.6">Uncertainty Vs Avoidance</text></g>
<g id="c56" transform="translate(1369.7 1027.7)"><rect y="-6.9" width="26.3" height="13.8"/><text x="2.8" y="2.2" textLength="20.5">France</text></g>
<g id="c57" transform="translate(1408.7 1027.7)"><rect y="-6.9" width="93.3" height="13.8"/><text x="2.8" y="2.2" textLength="87.5">Lower uncertainty avoidance</text></g>
<g id="c58" transform="translate(1515 1016.7)"><rect y="-6.9" width="58.7" height="13.8"/><text x="2.8" y="2.2" textLength="52.9">Risk Management</text></g>
<g id="c59" transform="translate(1515 1038.5)"><rect y="-10.8" width="88.7" height="21.6"/><text x="2.7" y="-1.9" textLength="83">Adaptability to change and</text><text x="2.7" y="6.1" textLength="49">experimentation</text></g>
<g id="c60" transform="translate(1369.7 1078.7)"><rect y="-6.9" width="35.6" height="13.8"/><text x="2.8" y="2.2" textLength="29.8">Colombia</text></g>
<g id="c61" transform="translate(1418 1078.7)"><rect y="-6.9" width="94" height="13.8"/><text x="2.8" y="2.2" textLength="88.2">Higher uncertainty avoidance</text></g>
<g id="c62" transform="translate(1525 1060.7)"><rect y="-6.9" width="54.7" height="13.8"/><text x="2.8" y="2.2" textLength="48.9">Clear guidelines</text></g>
<g id="c63" transform="translate(1525 1078.7)"><rect y="-6.9" width="49.3" height="13.8"/><text x="2.8" y="2.2" textLength="43.5">Detailed plans</text></g>
<g id="c64" transform="translate(1525 1096.7)"><rect y="-6.9" width="76" height="13.8"/><text x="2.8" y="2.2" textLength="70.2">Conservative approach</text></g>
<g id="c65" transform="translate(1273.3 1123.7)"><rect y="-6.9" width="81.7" height="13.8"/><text x="2.8" y="2.2" textLength="75.9">Masculinity vs. Femininity</text></g>
<g id="c66" transform="translate(1367.7 1114.7)"><rect y="-6.9" width="26" height="13.8"/><text x="2.8" y="2.2" textLength="20.2">France</text></g>
<g id="c67" transform="translate(1407 1114.7)"><rect y="-6.9" width="90.7" height="13.8"/><text x="2.8" y="2.2" textLength="84.9">A balance toward femininity</text></g>
<g id="c68" transform="translate(1367.7 1132.7)"><rect y="-6.9" width="35.3" height="13.8"/><text x="2.8" y="2.2" textLength="29.5">Colombia</text></g>
<g id="c69" transform="translate(1416.3 1132.7)"><rect y="-6.9" width="98" height="13.8"/><text x="2.8" y="2.2" textLength="92.2">A higher degree of masculinity</text></g>
</g>
</svg>
